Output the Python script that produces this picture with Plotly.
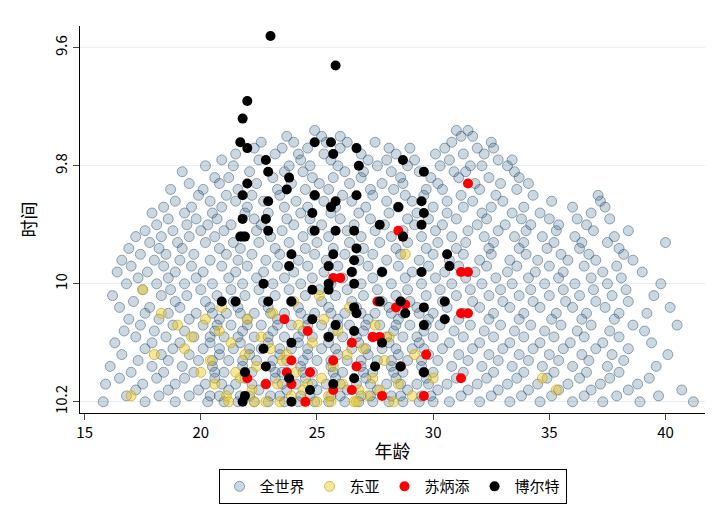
import plotly.graph_objects as go

# World: time -> list of ages (approximate)
world_rows = {
9.74: [24.9, 31.0, 31.5],
9.75: [23.7, 25.2, 26.0, 31.2, 31.7],
9.76: [22.6, 24.0, 25.4, 26.3, 27.5, 30.8, 32.5],
9.77: [22.3, 23.5, 24.6, 26.0, 28.1, 29.0, 30.5, 31.9, 32.6],
9.78: [21.5, 23.2, 24.2, 25.3, 26.9, 28.4, 30.1, 31.3, 32.2],
9.79: [20.9, 22.5, 24.3, 25.6, 27.2, 28.0, 29.2, 30.7, 32.8, 33.4],
9.80: [20.2, 21.4, 23.8, 24.7, 25.9, 27.6, 28.9, 30.3, 31.6, 32.1, 33.2],
9.81: [19.2, 22.1, 23.6, 24.4, 26.2, 27.0, 28.2, 29.4, 30.9, 31.4, 33.5],
9.82: [20.6, 21.2, 23.1, 24.8, 25.7, 26.9, 28.6, 29.9, 31.1, 32.4, 33.7],
9.83: [19.5, 20.8, 22.4, 23.9, 25.1, 26.4, 27.8, 28.7, 30.2, 31.8, 32.9, 34.1],
9.84: [18.7, 20.1, 21.6, 23.3, 24.5, 25.5, 27.3, 28.3, 29.7, 30.4, 32.0, 33.6],
9.85: [19.9, 21.1, 22.2, 23.4, 24.9, 26.1, 27.4, 28.8, 29.6, 31.2, 32.7, 34.3, 37.1],
9.86: [18.9, 20.4, 21.5, 22.7, 24.1, 25.3, 26.5, 28.0, 29.1, 30.6, 31.7, 33.0, 35.1, 37.2],
9.87: [18.4, 19.6, 20.9, 22.0, 23.6, 24.6, 25.8, 27.1, 28.5, 30.0, 31.3, 32.5, 33.9, 36.0, 37.4],
9.88: [17.9, 19.3, 20.5, 21.9, 22.9, 24.3, 25.6, 26.8, 28.1, 29.3, 30.6, 32.1, 33.4, 34.6, 36.8],
9.89: [18.6, 19.8, 20.7, 22.3, 23.7, 24.7, 26.0, 27.3, 28.9, 29.8, 31.0, 32.3, 33.8, 35.0, 36.2, 37.6],
9.90: [18.1, 19.4, 20.3, 21.3, 22.6, 24.0, 25.2, 26.6, 27.9, 29.2, 30.4, 31.9, 33.1, 34.2, 35.4, 36.6],
9.91: [17.6, 18.8, 20.0, 21.0, 22.4, 23.5, 24.8, 26.3, 27.5, 28.7, 30.1, 31.5, 32.8, 34.0, 35.3, 36.9, 38.4],
9.92: [17.2, 18.3, 19.5, 20.6, 21.8, 23.0, 24.4, 25.5, 26.9, 28.2, 29.5, 30.8, 32.2, 33.5, 34.7, 36.1, 37.8],
9.93: [17.8, 19.0, 20.2, 21.4, 22.5, 23.8, 25.0, 26.4, 27.7, 28.9, 30.2, 31.4, 32.6, 33.9, 35.2, 36.4, 37.5, 40.0],
9.94: [16.9, 18.2, 19.2, 20.8, 21.7, 23.2, 24.5, 25.7, 27.0, 28.4, 29.7, 31.0, 32.4, 33.7, 34.9, 36.3, 38.0],
9.95: [17.4, 18.5, 19.7, 21.1, 22.2, 23.4, 24.9, 26.2, 27.4, 28.6, 30.0, 31.3, 32.5, 34.0, 35.5, 36.7, 38.2],
9.96: [16.6, 18.0, 19.1, 20.4, 21.6, 22.8, 24.2, 25.4, 26.8, 28.0, 29.4, 30.7, 32.0, 33.3, 34.5, 35.8, 37.0, 38.6],
9.97: [17.0, 18.4, 19.6, 20.9, 22.0, 23.3, 24.6, 25.9, 27.2, 28.5, 29.8, 31.1, 32.3, 33.6, 35.0, 36.5, 37.9],
9.98: [16.4, 17.7, 18.9, 20.1, 21.5, 22.7, 24.0, 25.3, 26.5, 27.8, 29.1, 30.5, 31.8, 33.2, 34.4, 35.6, 37.3, 39.0],
9.99: [17.3, 18.6, 19.8, 21.2, 22.4, 23.6, 24.8, 26.1, 27.4, 28.8, 30.1, 31.4, 32.7, 34.1, 35.4, 36.8, 38.1],
10.00: [16.8, 18.1, 19.3, 20.5, 21.8, 23.1, 24.3, 25.6, 26.9, 28.2, 29.5, 30.8, 32.1, 33.4, 34.8, 36.1, 37.5, 39.8],
10.01: [17.5, 18.7, 20.0, 21.3, 22.5, 23.8, 25.1, 26.3, 27.6, 28.9, 30.3, 31.6, 32.9, 34.2, 35.6, 36.9, 38.3],
10.02: [16.2, 18.3, 19.4, 20.7, 21.9, 23.2, 24.5, 25.8, 27.0, 28.4, 29.7, 31.0, 32.4, 33.7, 35.0, 36.3, 37.7, 39.5],
10.03: [17.1, 18.9, 20.2, 21.4, 22.7, 23.9, 25.2, 26.5, 27.8, 29.0, 30.4, 31.7, 33.0, 34.3, 35.7, 37.0, 38.4],
10.04: [16.5, 17.8, 19.1, 20.4, 21.6, 22.9, 24.2, 25.5, 26.7, 28.1, 29.3, 30.6, 32.0, 33.3, 34.6, 36.0, 37.4, 40.2],
10.05: [17.6, 18.6, 19.8, 21.1, 22.3, 23.6, 24.9, 26.2, 27.5, 28.7, 30.0, 31.3, 32.6, 33.9, 35.3, 36.6, 38.0, 39.2],
10.06: [16.9, 18.2, 19.5, 20.8, 22.0, 23.3, 24.6, 25.9, 27.2, 28.5, 29.8, 31.1, 32.4, 33.7, 35.1, 36.4, 37.8],
10.07: [17.4, 18.8, 20.1, 21.3, 22.6, 23.9, 25.2, 26.4, 27.7, 29.0, 30.3, 31.6, 32.9, 34.2, 35.5, 36.8, 38.6, 40.5],
10.08: [16.7, 18.0, 19.3, 20.6, 21.8, 23.1, 24.4, 25.7, 27.0, 28.3, 29.6, 30.9, 32.2, 33.5, 34.8, 36.2, 37.6, 39.1],
10.09: [17.2, 18.5, 19.7, 21.0, 22.3, 23.6, 24.8, 26.1, 27.4, 28.7, 30.0, 31.3, 32.6, 33.9, 35.2, 36.5, 38.0],
10.10: [16.3, 17.9, 19.1, 20.4, 21.7, 22.9, 24.2, 25.5, 26.8, 28.1, 29.4, 30.7, 32.0, 33.3, 34.6, 35.9, 37.3, 39.4],
10.11: [17.6, 18.8, 20.1, 21.4, 22.6, 23.9, 25.2, 26.5, 27.8, 29.1, 30.4, 31.7, 33.0, 34.3, 35.6, 37.0, 38.4],
10.12: [16.6, 18.3, 19.5, 20.8, 22.1, 23.4, 24.6, 25.9, 27.2, 28.5, 29.8, 31.1, 32.4, 33.7, 35.0, 36.4, 37.7, 40.1],
10.13: [17.3, 18.6, 19.9, 21.2, 22.4, 23.7, 25.0, 26.3, 27.6, 28.9, 30.2, 31.5, 32.8, 34.1, 35.4, 36.7, 38.2],
10.14: [16.1, 17.9, 19.2, 20.5, 21.8, 23.0, 24.3, 25.6, 26.9, 28.2, 29.5, 30.8, 32.1, 33.4, 34.7, 36.0, 37.5, 39.6],
10.15: [17.0, 18.4, 19.7, 21.0, 22.2, 23.5, 24.8, 26.1, 27.4, 28.7, 30.0, 31.3, 32.6, 33.9, 35.2, 36.6, 38.0],
10.16: [16.5, 18.1, 19.3, 20.6, 21.9, 23.2, 24.5, 25.8, 27.1, 28.4, 29.7, 31.0, 32.3, 33.6, 34.9, 36.3, 37.6, 39.3],
10.17: [15.9, 17.5, 18.9, 20.2, 21.5, 22.8, 24.1, 25.4, 26.7, 28.0, 29.3, 30.6, 31.9, 33.2, 34.5, 35.8, 37.2, 38.8],
10.18: [17.2, 18.6, 19.9, 21.2, 22.5, 23.7, 25.0, 26.3, 27.6, 28.9, 30.2, 31.5, 32.8, 34.1, 35.4, 36.8, 38.4, 40.7],
10.19: [16.8, 18.2, 19.5, 20.8, 22.1, 23.4, 24.7, 26.0, 27.3, 28.6, 29.9, 31.2, 32.5, 33.8, 35.1, 36.5, 37.9, 39.7],
10.20: [15.8, 17.6, 18.9, 20.3, 21.6, 22.9, 24.2, 25.5, 26.8, 28.1, 29.4, 30.7, 32.0, 33.3, 34.6, 36.0, 37.3, 38.9, 41.2],
}
# extra density in the core (20-30 years, slower times)
core_rows = {
10.05: [20.5, 21.7, 23.0, 24.3, 25.6, 26.9, 28.2, 29.4],
10.07: [20.7, 22.0, 23.3, 24.6, 25.9, 27.1, 28.4, 29.7],
10.09: [20.4, 21.6, 22.9, 24.2, 25.5, 26.7, 28.0, 29.3],
10.11: [20.8, 22.1, 23.4, 24.6, 25.8, 27.1, 28.4, 29.6],
10.13: [20.5, 21.8, 23.1, 24.4, 25.6, 26.9, 28.2, 29.5],
10.15: [20.6, 21.9, 23.2, 24.4, 25.7, 27.0, 28.3, 29.6],
10.17: [20.9, 22.2, 23.5, 24.8, 26.0, 27.3, 28.6, 29.8],
10.19: [20.4, 21.7, 23.0, 24.3, 25.6, 26.9, 28.2, 29.5],
10.20: [21.0, 22.3, 23.6, 24.9, 26.2, 27.4, 28.7, 30.0],
}
world_age = [a for rows in (world_rows, core_rows) for t, ages in rows.items() for a in ages]
world_time = [t for rows in (world_rows, core_rows) for t, ages in rows.items() for a in ages]

ea_age = [17.5, 17.0, 34.7, 28.8, 18.3, 19.0, 19.6, 20.2, 20.8, 21.3, 21.9, 22.4, 23.0, 23.5, 24.1, 24.6, 25.2, 25.7, 26.3,
          26.8, 27.4, 27.9, 28.5, 29.1, 20.0, 20.6, 21.1, 21.7, 22.2, 22.8, 23.3, 23.9, 24.4, 25.0, 25.5, 26.1, 26.6, 27.2,
          27.7, 28.3, 19.3, 20.4, 21.5, 22.6, 23.7, 24.8, 25.9, 27.0, 28.1, 29.2, 20.9, 22.0, 23.1, 24.2, 25.3, 26.4, 27.5,
          21.2, 22.3, 23.4, 24.5, 25.6, 26.7, 24.0, 25.1, 30.0, 35.3, 18.0]
ea_time = [10.01, 10.19, 10.16, 9.95, 10.05, 10.07, 10.09, 10.06, 10.08, 10.10, 10.12, 10.14, 10.11, 10.13, 10.15, 10.17, 10.16, 10.14, 10.12,
           10.18, 10.16, 10.13, 10.17, 10.19, 10.15, 10.17, 10.19, 10.16, 10.18, 10.20, 10.17, 10.19, 10.18, 10.20, 10.19, 10.17, 10.20, 10.19,
           10.18, 10.20, 10.11, 10.13, 10.15, 10.09, 10.12, 10.10, 10.08, 10.11, 10.09, 10.12, 10.04, 10.06, 10.05, 10.07, 10.06, 10.04, 10.07,
           10.20, 10.20, 10.20, 10.20, 10.20, 10.20, 10.03, 10.02, 10.16, 10.18, 10.12]

su_age = [31.5, 28.5, 28.7, 31.2, 31.5, 26.0, 25.7, 28.6, 28.4, 28.8, 27.6, 31.2, 31.5, 23.6, 24.6, 27.7, 27.4, 26.5, 28.6, 29.7,
          23.9, 23.7, 22.0, 22.8, 24.7, 25.7, 26.5, 27.8, 29.6, 31.2, 24.5, 23.9, 25.7, 26.7]
su_time = [9.83, 9.91, 9.92, 9.98, 9.98, 9.99, 9.99, 10.03, 10.04, 10.035, 10.03, 10.05, 10.05, 10.06, 10.08, 10.09, 10.09, 10.10, 10.14, 10.12,
           10.13, 10.15, 10.16, 10.17, 10.15, 10.18, 10.18, 10.19, 10.19, 10.16, 10.20, 10.17, 10.13, 10.14]

bolt_age = [23.0, 25.8, 22.0, 21.8, 21.7, 22.0, 22.8, 22.9, 23.8, 23.7, 24.9, 25.6, 25.7, 26.7, 26.8, 28.7, 29.6,
            22.0, 21.8, 22.9, 24.9, 25.8, 25.6, 26.7, 28.5, 29.5, 29.6,
            21.8, 22.8, 21.9, 21.7, 22.9, 24.8, 24.9, 25.8, 26.6, 26.7, 27.7, 29.5, 28.7, 26.6,
            23.9, 22.7, 23.8, 25.5, 25.7, 26.5, 25.5, 26.6, 27.8, 29.5, 30.6, 30.7,
            20.9, 21.5, 22.9, 23.9, 24.8, 25.5, 26.6, 27.7, 28.6, 29.6, 30.5, 30.5,
            25.8, 25.5, 26.6, 22.7, 23.9, 24.8, 26.7, 28.8, 29.6, 27.8,
            22.8, 21.9, 21.9, 21.8, 23.8, 23.9, 24.7, 25.7, 26.6, 27.5, 28.6, 29.6]
bolt_time = [9.58, 9.63, 9.69, 9.72, 9.76, 9.77, 9.79, 9.81, 9.82, 9.84, 9.76, 9.76, 9.78, 9.77, 9.80, 9.79, 9.81,
             9.83, 9.85, 9.86, 9.85, 9.86, 9.87, 9.85, 9.87, 9.86, 9.88,
             9.89, 9.89, 9.92, 9.92, 9.91, 9.88, 9.91, 9.91, 9.91, 9.94, 9.90, 9.90, 9.92, 9.96,
             9.95, 10.00, 9.97, 9.97, 9.95, 9.98, 10.00, 10.00, 9.98, 9.98, 9.95, 9.97,
             10.03, 10.03, 10.03, 10.03, 10.01, 10.01, 10.04, 10.03, 10.03, 10.04, 10.03, 10.06,
             10.07, 10.09, 10.08, 10.11, 10.10, 10.06, 10.05, 10.05, 10.07, 10.10,
             10.14, 10.15, 10.19, 10.20, 10.16, 10.20, 10.18, 10.17, 10.16, 10.14, 10.14, 10.15]

y_ticks = [9.6, 9.8, 10.0, 10.2]
y_tick_text = ["9.6", "9.8", "10", "10.2"]
x_ticks = [15, 20, 25, 30, 35, 40]

fig = go.Figure()
fig.add_trace(go.Scatter(x=world_age, y=world_time, mode="markers", name="全世界",
    marker=dict(size=10, color="rgba(26,71,111,0.22)", line=dict(color="rgba(26,71,111,0.45)", width=1))))
fig.add_trace(go.Scatter(x=ea_age, y=ea_time, mode="markers", name="东亚",
    marker=dict(size=10, color="rgba(235,200,30,0.45)", line=dict(color="rgba(200,170,20,0.7)", width=1))))
fig.add_trace(go.Scatter(x=su_age, y=su_time, mode="markers", name="苏炳添",
    marker=dict(size=10, color="#ff0000", line=dict(width=0))))
fig.add_trace(go.Scatter(x=bolt_age, y=bolt_time, mode="markers", name="博尔特",
    marker=dict(size=10, color="#000000", line=dict(width=0))))

fig.update_layout(
    width=720, height=524, paper_bgcolor="white", plot_bgcolor="white",
    margin=dict(l=72, r=23, t=18, b=119),
    font=dict(family="Noto Sans CJK SC", size=15, color="black"),
    legend=dict(orientation="h", x=0.5, xanchor="center", y=-0.145, yanchor="top",
                bordercolor="black", borderwidth=1, font=dict(size=15)),
    xaxis=dict(title=dict(text="年龄", standoff=4), range=[14.8, 41.7], tickvals=x_ticks,
               showline=True, linecolor="black", ticks="outside", ticklen=6, showgrid=False, zeroline=False),
    yaxis=dict(title=dict(text="时间", standoff=8), range=[10.219, 9.563], tickvals=y_ticks, ticktext=y_tick_text,
               tickangle=-90, showline=True, linecolor="black", ticks="outside", ticklen=6,
               showgrid=True, gridcolor="#e8eef0", zeroline=False),
)
fig.write_html("out.html")
